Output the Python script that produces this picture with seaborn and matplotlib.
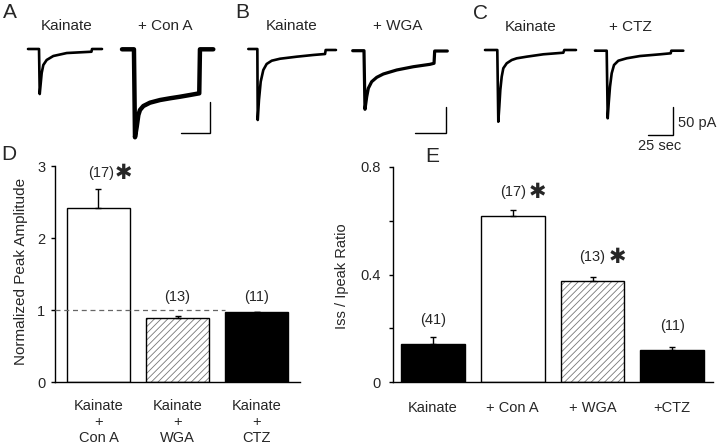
import matplotlib
matplotlib.use("Agg")
import matplotlib.pyplot as plt
import seaborn as sns
import pandas as pd
from matplotlib.patches import Rectangle

# ---------------- data ----------------
# Traces: time (sec) from sweep start, current (pA) relative to baseline
A_kainate_t = [0, 9.5, 10.1, 11.8, 13.2, 16.1, 21.8, 33.4, 54.7, 55.2, 63.8]
A_kainate_i = [0, 0, -72.6, -38.7, -25.8, -17.7, -11.3, -6.5, -4.4, 0, 0]
A_cona_t = [0, 10.3, 11.2, 12.7, 14.1, 15.5, 18.4, 24.1, 32.8, 41.4, 50.0, 58.6, 66.6, 67.2, 78.7]
A_cona_i = [0, 0, -141.9, -124.8, -106, -97.9, -91.5, -86.1, -81.8, -79.0, -76.5, -73.7, -71.0, 0, 0]
B_kainate_t = [0, 7.3, 7.6, 8.6, 10.0, 12.1, 14.8, 18.9, 25.6, 39.0, 52.4, 61.9, 62.4, 70.7]
B_kainate_i = [0, 0, -136.5, -98, -62.9, -40.4, -28.8, -22.5, -18.7, -14.8, -11.5, -9.6, -1.9, -1.9]
B_wga_t = [0, 9.1, 9.9, 11.3, 12.6, 15.3, 19.4, 24.7, 35.5, 48.9, 62.3, 65.6, 66.1, 76.3]
B_wga_i = [0, 0, -112.7, -88.5, -72.3, -59.6, -51.2, -44.8, -37.1, -30.8, -26.2, -24.2, -0.6, -0.6]
C_kainate_t = [0, 12.3, 13.3, 14.3, 15.3, 16.7, 18.3, 21.7, 26.7, 31.7, 41.7, 58.3, 78.3, 79.3, 91]
C_kainate_i = [0, 0, -126.7, -100.2, -70.7, -47.2, -32.3, -23.5, -17.7, -14.7, -11.8, -7.6, -4.8, 0, 0]
C_ctz_t = [0, 11.7, 12.7, 13.7, 15.0, 16.7, 19.0, 23.3, 31.7, 45.0, 65.0, 75.7, 76.3, 88.3]
C_ctz_i = [0, 0, -119.4, -92.9, -63.6, -39.9, -25.3, -17.7, -13.4, -9.4, -6.4, -4.6, 0, 0]
scale_bar_sec = 25
scale_bar_pA = 50

# Panel D
D_labels = ["Kainate\n+\nCon A", "Kainate\n+\nWGA", "Kainate\n+\nCTZ"]
D_values = [2.41, 0.89, 0.975]
D_err = [0.27, 0.03, 0.0]
D_n = ["(17)", "(13)", "(11)"]
D_sig = [True, False, False]

# Panel E
E_labels = ["Kainate", "+ Con A", "+ WGA", "+CTZ"]
E_values = [0.140, 0.619, 0.377, 0.119]
E_err = [0.026, 0.021, 0.014, 0.012]
E_n = ["(41)", "(17)", "(13)", "(11)"]
E_sig = [False, True, True, False]

# ---------------- style ----------------
sns.set_style("white")
plt.rcParams["font.family"] = ["Liberation Sans", "DejaVu Sans"]
plt.rcParams["hatch.linewidth"] = 0.6
plt.rcParams["hatch.color"] = "#777777"

W, H = 720, 445
fig = plt.figure(figsize=(7.2, 4.45), dpi=100)
fig.patch.set_facecolor("white")


def px_axes(left, top, w, h):
    return fig.add_axes([left / W, 1 - (top + h) / H, w / W, h / H])


def ftext(x, y, s, **kw):
    fig.text(x / W, 1 - y / H, s, **kw)


# ---------------- traces ----------------
def trace_axes(x0, y0, sx, sy, w=110, h=110, padl=8, padt=15):
    ax = px_axes(x0 - padl, y0 - padt, w, h)
    ax.set_xlim(-padl / sx, (w - padl) / sx)
    ax.set_ylim(-(h - padt) / sy, padt / sy)
    ax.axis("off")
    ax.patch.set_alpha(0)
    return ax


panels = [
    # origin1, origin2, sx, sy, scalebar corner, traces, linewidths
    ((28, 49), (122, 49.3), 1.16, 0.62, (210, 133),
     (A_kainate_t, A_kainate_i), (A_cona_t, A_cona_i), (1.9, 3.2)),
    ((248.3, 49), (352.7, 50.7), 1.24, 0.52, (446, 133),
     (B_kainate_t, B_kainate_i), (B_wga_t, B_wga_i), (1.9, 2.3)),
    ((485, 50), (595, 50.7), 1.0, 0.566, (673, 135),
     (C_kainate_t, C_kainate_i), (C_ctz_t, C_ctz_i), (1.9, 1.9)),
]

for o1, o2, sx, sy, corner, tr1, tr2, lws in panels:
    for (x0, y0), (tt, ii), lw in ((o1, tr1, lws[0]), (o2, tr2, lws[1])):
        ax = trace_axes(x0, y0, sx, sy)
        sns.lineplot(x=tt, y=ii, ax=ax, color="black", lw=lw, sort=False,
                     estimator=None, clip_on=False)
        ax.axis("off")
    # scale bar drawn in the second trace's axes
    x0, y0 = o2
    tc = (corner[0] - x0) / sx
    ic = -(corner[1] - y0) / sy
    ax.plot([tc - scale_bar_sec, tc, tc], [ic, ic, ic + scale_bar_pA],
            color="black", lw=1.0, clip_on=False, solid_joinstyle="miter")

# trace headings
for x, y, s in [(67, 26, "Kainate"), (165, 26, "+ Con A"),
                (292, 26, "Kainate"), (398, 26, "+ WGA"),
                (531, 27, "Kainate"), (630, 27, "+ CTZ")]:
    ftext(x, y, s, ha="center", va="center", fontsize=11)
ftext(678, 123, "50 pA", ha="left", va="center", fontsize=10.5)
ftext(660, 146, "25 sec", ha="center", va="center", fontsize=10.5)

# panel letters
for x, y, s in [(9.5, 13, "A"), (242, 12, "B"), (480, 13.5, "C"),
                (9, 155, "D"), (432, 157, "E")]:
    ftext(x, y, s, ha="center", va="center", fontsize=15)


# ---------------- bar charts ----------------
def style_bars(ax, labels, values, errs, kinds):
    df = pd.DataFrame({"cond": labels, "val": values})
    sns.barplot(data=df, x="cond", y="val", ax=ax, width=0.8,
                color="white", edgecolor="black", linewidth=1.0,
                errorbar=None, zorder=2)
    for p, kind in zip(ax.patches, kinds):
        if kind == "black":
            p.set_facecolor("black")
        elif kind == "hatch":
            p.set_facecolor("white")
            p.set_hatch("/////")
            p.set_edgecolor("#777777")
            p.set_linewidth(0)
            ax.add_patch(Rectangle(p.get_xy(), p.get_width(), p.get_height(),
                                   fill=False, edgecolor="black", lw=1.0,
                                   zorder=3))
    xs = range(len(values))
    ax.errorbar(list(xs), values, yerr=[[0] * len(errs), errs], fmt="none",
                ecolor="black", elinewidth=1.0, capsize=2.5, capthick=1.0,
                zorder=4)
    ax.set_xlabel("")
    sns.despine(ax=ax)
    for s in ("left", "bottom"):
        ax.spines[s].set_linewidth(1.0)
        ax.spines[s].set_color("black")
    ax.tick_params(axis="x", length=0, labelsize=10.5)
    ax.tick_params(axis="y", length=3, width=1.0, direction="out",
                   labelsize=10.5, left=True, color="black")


# Panel D
axD = px_axes(55, 166, 245, 216)
style_bars(axD, D_labels, D_values, D_err, ["white", "hatch", "black"])
axD.set_ylim(0, 3)
axD.set_xlim(-0.55, 2.55)
axD.set_yticks([0, 1, 2, 3])
axD.set_yticklabels(["0", "1", "2", "3"])
axD.tick_params(axis="y", pad=4)
axD.tick_params(axis="x", pad=12)
third_left = axD.patches[2].get_x()
axD.hlines(1, -0.55, third_left, colors="#666666", linestyles=(0, (4, 3)),
           lw=0.9, zorder=3, clip_on=False)
axD.set_ylabel("Normalized Peak Amplitude", fontsize=11, va="center")
axD.yaxis.set_label_coords(-0.14, 0.51)
D_text_y = [2.90, 1.18, 1.18]
for i, (n, ty, sig) in enumerate(zip(D_n, D_text_y, D_sig)):
    axD.text(i + (0.03 if sig else 0), ty, n, ha="center", va="center",
             fontsize=10.5)
    if sig:
        axD.text(i + 0.31, ty, "\u2731", ha="center", va="center",
                 fontsize=15, family="DejaVu Sans")

# Panel E
axE = px_axes(393, 167, 320, 215)
style_bars(axE, E_labels, E_values, E_err, ["black", "white", "hatch", "black"])
axE.set_ylim(0, 0.8)
axE.set_xlim(-0.5, 3.51)
axE.set_yticks([0, 0.2, 0.4, 0.6, 0.8])
axE.set_yticklabels(["0", "", "0.4", "", "0.8"])
axE.tick_params(axis="y", pad=6)
axE.tick_params(axis="x", pad=14)
axE.set_ylabel("Iss / Ipeak Ratio", fontsize=10.5, va="center")
axE.yaxis.set_label_coords(-0.159, 0.49)
E_text_y = [0.231, 0.707, 0.465, 0.208]
for i, (n, ty, sig) in enumerate(zip(E_n, E_text_y, E_sig)):
    axE.text(i, ty, n, ha="center", va="center", fontsize=10.5)
    if sig:
        axE.text(i + 0.31, ty, "\u2731", ha="center", va="center",
                 fontsize=15, family="DejaVu Sans")

fig.savefig("out.png", dpi=100, facecolor="white")
